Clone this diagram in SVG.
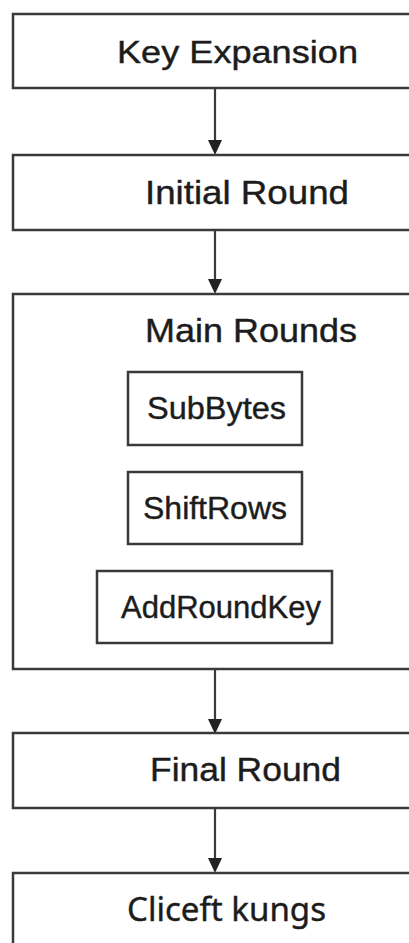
<svg xmlns="http://www.w3.org/2000/svg" width="409" height="943" viewBox="0 0 409 943">
<defs>
<style>
.box{fill:#ffffff;stroke:#3a3a3a;stroke-width:2.5}
.lbl{font-family:"Liberation Sans",Arial,sans-serif;fill:#1c1c1c;stroke:#1c1c1c;stroke-width:0.4;text-anchor:start}
.edge{stroke:#3a3a3a;stroke-width:2.2;fill:none}
.head{fill:#222222}
</style>
</defs>
<rect width="409" height="943" fill="#ffffff"/>
<g id="connectors">
<line class="edge" x1="215" y1="88" x2="215" y2="141"/><path class="head" d="M208,140 L222,140 L215,155 Z"/>
<line class="edge" x1="215" y1="230" x2="215" y2="280"/><path class="head" d="M208,279 L222,279 L215,294 Z"/>
<line class="edge" x1="215" y1="669" x2="215" y2="720"/><path class="head" d="M208,719 L222,719 L215,734 Z"/>
<line class="edge" x1="215" y1="808" x2="215" y2="859"/><path class="head" d="M208,858 L222,858 L215,873 Z"/>
</g>
<g id="key-expansion">
<rect class="box" x="13" y="14" width="420" height="74"/>
<text class="lbl" x="117" y="63" font-size="31" textLength="241" lengthAdjust="spacingAndGlyphs">Key Expansion</text>
</g>
<g id="initial-round">
<rect class="box" x="13" y="155" width="420" height="75"/>
<text class="lbl" x="145" y="204" font-size="34" textLength="204" lengthAdjust="spacingAndGlyphs">Initial Round</text>
</g>
<g id="main-rounds">
<rect class="box" x="13" y="294" width="420" height="375"/>
<text class="lbl" x="145" y="342" font-size="33" textLength="212" lengthAdjust="spacingAndGlyphs">Main Rounds</text>
</g>
<g id="subbytes">
<rect class="box" x="128" y="372" width="174" height="73"/>
<text class="lbl" x="147" y="419" font-size="31" textLength="139" lengthAdjust="spacingAndGlyphs">SubBytes</text>
</g>
<g id="shiftrows">
<rect class="box" x="128" y="472" width="174" height="72"/>
<text class="lbl" x="143" y="519" font-size="31" textLength="144" lengthAdjust="spacingAndGlyphs">ShiftRows</text>
</g>
<g id="addroundkey">
<rect class="box" x="97" y="571" width="235" height="72"/>
<text class="lbl" x="121" y="618" font-size="31" textLength="200" lengthAdjust="spacingAndGlyphs">AddRoundKey</text>
</g>
<g id="final-round">
<rect class="box" x="13" y="733" width="420" height="75"/>
<text class="lbl" x="150" y="781" font-size="33" textLength="191" lengthAdjust="spacingAndGlyphs">Final Round</text>
</g>
<g id="cliceft-kungs">
<rect class="box" x="13" y="873" width="420" height="90"/>
<text class="lbl" x="127" y="921" font-size="32" textLength="199" lengthAdjust="spacingAndGlyphs" style="font-family:'Noto Sans','DejaVu Sans',sans-serif">Cliceft kungs</text>
</g>
</svg>
